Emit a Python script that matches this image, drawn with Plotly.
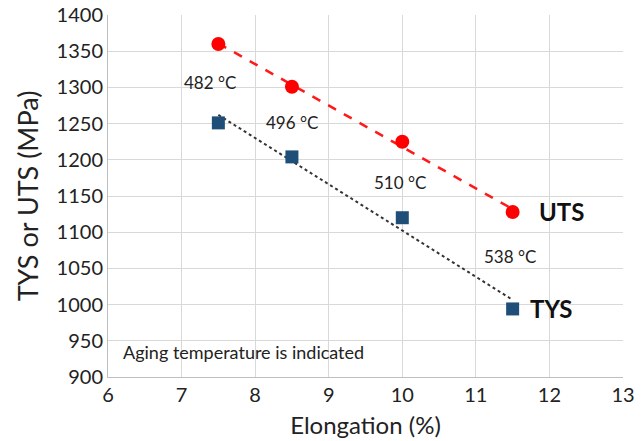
import numpy as np
import plotly.graph_objects as go

elong = [7.5, 8.5, 10.0, 11.5]
uts = [1360, 1301, 1225, 1128]
tys = [1251, 1204, 1120, 994]
temps = ["482 °C", "496 °C", "510 °C", "538 °C"]
x_ticks = [6, 7, 8, 9, 10, 11, 12, 13]
y_ticks = [900, 950, 1000, 1050, 1100, 1150, 1200, 1250, 1300, 1350, 1400]

FONT = "Lato, 'Open Sans', sans-serif"

xs = np.array(elong)
pu = np.polyfit(xs, uts, 1)
pt = np.polyfit(xs, tys, 1)
xl = np.array([xs.min(), xs.max()])

fig = go.Figure()
fig.add_trace(go.Scatter(x=xl, y=np.polyval(pu, xl), mode="lines",
                         line=dict(color="#FF1A1A", width=2.5, dash="dash"), showlegend=False))
fig.add_trace(go.Scatter(x=xl, y=np.polyval(pt, xl), mode="lines",
                         line=dict(color="#333333", width=2, dash="dot"), showlegend=False))
fig.add_trace(go.Scatter(x=elong, y=uts, mode="markers",
                         marker=dict(symbol="circle", size=14, color="#FF0000"), showlegend=False))
fig.add_trace(go.Scatter(x=elong, y=tys, mode="markers",
                         marker=dict(symbol="square", size=13, color="#1F4E79"), showlegend=False))

label_pos = [(7.39, 1307), (8.5, 1252), (9.97, 1168), (11.46, 1067)]
for t, (lx, ly) in zip(temps, label_pos):
    fig.add_annotation(x=lx, y=ly, text=t, showarrow=False,
                       font=dict(family=FONT, size=17, color="#222222"))

fig.add_annotation(x=12.17, y=1128, text="<b>UTS</b>", showarrow=False,
                   font=dict(family=FONT, size=24, color="#111111"))
fig.add_annotation(x=12.03, y=994, text="<b>TYS</b>", showarrow=False,
                   font=dict(family=FONT, size=24, color="#111111"))
fig.add_annotation(x=6.17, y=934, text="Aging temperature is indicated", showarrow=False,
                   xanchor="left", font=dict(family=FONT, size=18, color="#222222"))

fig.update_layout(
    width=644, height=441,
    margin=dict(l=108, r=21, t=15, b=64),
    paper_bgcolor="white", plot_bgcolor="white",
    font=dict(family=FONT, color="#222222"),
    xaxis=dict(range=[6, 13], tickvals=x_ticks, showgrid=True, gridcolor="#D9D9D9",
               gridwidth=1, zeroline=False, showline=True, linecolor="#BFBFBF",
               tickfont=dict(size=20), ticks="", automargin=False,
               title=dict(text="Elongation (%)", font=dict(size=24), standoff=12)),
    yaxis=dict(range=[900, 1400], tickvals=y_ticks, showgrid=True, gridcolor="#D9D9D9",
               gridwidth=1, zeroline=False, showline=True, linecolor="#BFBFBF",
               tickfont=dict(size=20), ticks="", automargin=False,
               title=dict(text="TYS or UTS (MPa)", font=dict(size=27), standoff=10)),
)

fig.write_html("out.html")
